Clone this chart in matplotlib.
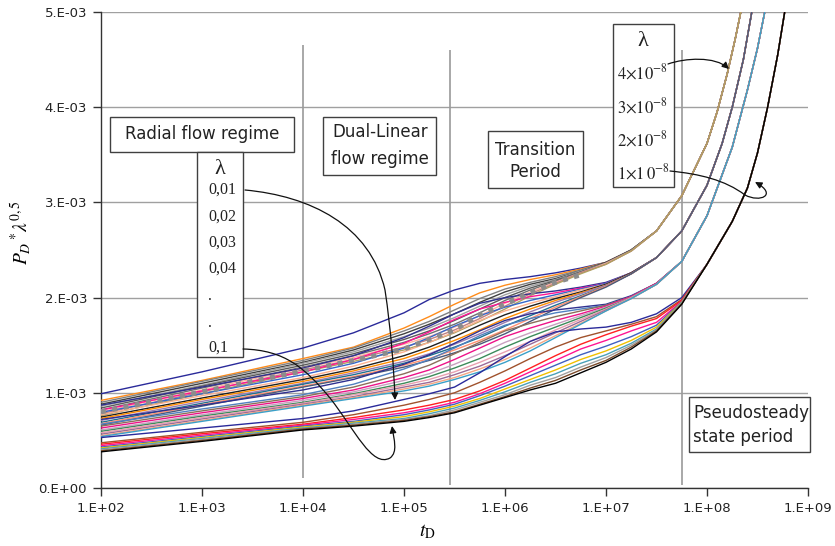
import numpy as np
import matplotlib.pyplot as plt
from matplotlib.path import Path
from matplotlib.patches import FancyArrowPatch, Rectangle
from matplotlib.ticker import FuncFormatter, FixedLocator, NullLocator

plt.rcParams['mathtext.fontset'] = 'stix'

# log10(tD) where every curve has its own value
log_t_own = [2, 3, 4, 4.5, 5, 5.25, 5.5, 5.75, 6, 6.25, 6.5, 6.75, 7, 7.25, 7.5]
log_t_own_g1 = log_t_own + [7.75]

# values in units of 1e-3, rows bottom -> top (lambda' 0,01 ... 0,1)
# lambda = 1e-8
g1_rows = [
    [0.38, 0.49, 0.61, 0.65, 0.70, 0.74, 0.79, 0.87, 0.95, 1.03, 1.10, 1.21, 1.32, 1.46, 1.64, 1.93],
    [0.39, 0.50, 0.62, 0.66, 0.71, 0.75, 0.80, 0.88, 0.96, 1.05, 1.13, 1.24, 1.34, 1.48, 1.65, 1.935],
    [0.40, 0.51, 0.62, 0.67, 0.72, 0.76, 0.82, 0.90, 0.98, 1.08, 1.16, 1.27, 1.37, 1.50, 1.66, 1.94],
    [0.41, 0.52, 0.63, 0.68, 0.73, 0.78, 0.84, 0.92, 1.01, 1.11, 1.20, 1.31, 1.40, 1.52, 1.67, 1.945],
    [0.42, 0.53, 0.64, 0.69, 0.75, 0.80, 0.86, 0.94, 1.04, 1.14, 1.24, 1.35, 1.44, 1.55, 1.69, 1.95],
    [0.43, 0.54, 0.65, 0.70, 0.77, 0.82, 0.88, 0.97, 1.07, 1.18, 1.29, 1.40, 1.49, 1.59, 1.71, 1.955],
    [0.445, 0.555, 0.66, 0.72, 0.79, 0.84, 0.90, 0.99, 1.10, 1.22, 1.34, 1.46, 1.55, 1.65, 1.74, 1.96],
    [0.46, 0.57, 0.67, 0.74, 0.82, 0.87, 0.93, 1.02, 1.13, 1.26, 1.39, 1.51, 1.61, 1.70, 1.78, 1.97],
    [0.475, 0.585, 0.69, 0.77, 0.87, 0.93, 1.00, 1.11, 1.23, 1.36, 1.48, 1.58, 1.65, 1.72, 1.80, 1.98],
    [0.53, 0.63, 0.73, 0.81, 0.93, 0.99, 1.06, 1.21, 1.38, 1.54, 1.64, 1.67, 1.69, 1.74, 1.83, 2.00],
]
g1_tail_t = [8.0, 8.25, 8.4, 8.5, 8.6, 8.7, 8.8]
g1_tail_y = [2.35, 2.80, 3.15, 3.52, 4.0, 4.55, 5.2]

# lambda = 2e-8
g2_rows = [
    [0.54, 0.70, 0.86, 0.94, 1.02, 1.07, 1.14, 1.22, 1.32, 1.44, 1.58, 1.72, 1.86, 1.99, 2.14],
    [0.55, 0.71, 0.87, 0.95, 1.04, 1.09, 1.16, 1.25, 1.35, 1.47, 1.60, 1.73, 1.86, 1.99, 2.14],
    [0.565, 0.725, 0.88, 0.96, 1.06, 1.11, 1.19, 1.28, 1.39, 1.51, 1.63, 1.75, 1.87, 1.99, 2.14],
    [0.58, 0.74, 0.89, 0.98, 1.08, 1.14, 1.22, 1.32, 1.43, 1.54, 1.66, 1.77, 1.88, 2.00, 2.14],
    [0.595, 0.755, 0.90, 0.99, 1.10, 1.17, 1.26, 1.36, 1.48, 1.59, 1.69, 1.79, 1.89, 2.00, 2.14],
    [0.61, 0.77, 0.92, 1.01, 1.13, 1.20, 1.30, 1.41, 1.53, 1.63, 1.72, 1.81, 1.90, 2.00, 2.14],
    [0.63, 0.79, 0.94, 1.03, 1.16, 1.24, 1.35, 1.47, 1.59, 1.68, 1.76, 1.83, 1.91, 2.01, 2.15],
    [0.65, 0.81, 0.96, 1.06, 1.20, 1.29, 1.41, 1.53, 1.65, 1.73, 1.80, 1.86, 1.92, 2.01, 2.15],
    [0.67, 0.83, 0.98, 1.09, 1.25, 1.35, 1.47, 1.60, 1.71, 1.78, 1.84, 1.88, 1.92, 2.01, 2.15],
    [0.72, 0.87, 1.03, 1.14, 1.30, 1.40, 1.52, 1.65, 1.76, 1.83, 1.87, 1.90, 1.93, 2.02, 2.15],
]
g2_tail_t = [7.75, 8.0, 8.25, 8.4, 8.5, 8.6]
g2_tail_y = [2.38, 2.86, 3.58, 4.18, 4.62, 5.15]

# lambda = 3e-8
g3_rows = [
    [0.66, 0.86, 1.06, 1.16, 1.27, 1.34, 1.42, 1.51, 1.62, 1.75, 1.88, 2.00, 2.11, 2.25, 2.42],
    [0.675, 0.875, 1.07, 1.17, 1.29, 1.36, 1.45, 1.55, 1.66, 1.78, 1.90, 2.01, 2.12, 2.25, 2.42],
    [0.69, 0.89, 1.09, 1.19, 1.31, 1.39, 1.48, 1.58, 1.70, 1.81, 1.92, 2.02, 2.12, 2.25, 2.42],
    [0.71, 0.91, 1.10, 1.21, 1.33, 1.41, 1.51, 1.62, 1.74, 1.85, 1.95, 2.04, 2.13, 2.25, 2.42],
    [0.73, 0.93, 1.12, 1.23, 1.36, 1.45, 1.55, 1.66, 1.78, 1.88, 1.97, 2.05, 2.13, 2.25, 2.42],
    [0.745, 0.945, 1.14, 1.25, 1.39, 1.48, 1.59, 1.71, 1.82, 1.91, 1.99, 2.06, 2.14, 2.26, 2.42],
    [0.77, 0.97, 1.16, 1.28, 1.43, 1.53, 1.64, 1.76, 1.86, 1.94, 2.01, 2.08, 2.14, 2.26, 2.42],
    [0.795, 0.99, 1.19, 1.31, 1.47, 1.58, 1.70, 1.81, 1.90, 1.97, 2.03, 2.09, 2.15, 2.26, 2.42],
    [0.82, 1.02, 1.22, 1.35, 1.52, 1.64, 1.77, 1.88, 1.95, 2.01, 2.05, 2.10, 2.15, 2.26, 2.42],
    [0.87, 1.06, 1.26, 1.39, 1.58, 1.70, 1.83, 1.94, 2.00, 2.04, 2.07, 2.11, 2.16, 2.26, 2.42],
]
g3_tail_t = [7.75, 8.0, 8.15, 8.25, 8.36, 8.46]
g3_tail_y = [2.70, 3.18, 3.62, 4.00, 4.50, 5.10]

# lambda = 4e-8
g4_rows = [
    [0.76, 0.99, 1.22, 1.33, 1.45, 1.53, 1.63, 1.75, 1.88, 2.02, 2.14, 2.25, 2.35, 2.49, 2.70],
    [0.78, 1.01, 1.24, 1.35, 1.48, 1.56, 1.66, 1.78, 1.91, 2.04, 2.15, 2.26, 2.35, 2.49, 2.70],
    [0.80, 1.03, 1.26, 1.37, 1.51, 1.59, 1.69, 1.81, 1.94, 2.06, 2.16, 2.26, 2.36, 2.49, 2.70],
    [0.82, 1.05, 1.27, 1.39, 1.53, 1.62, 1.72, 1.84, 1.97, 2.08, 2.17, 2.27, 2.36, 2.49, 2.70],
    [0.84, 1.07, 1.29, 1.41, 1.56, 1.65, 1.76, 1.88, 2.00, 2.10, 2.18, 2.27, 2.36, 2.50, 2.70],
    [0.86, 1.08, 1.31, 1.43, 1.59, 1.68, 1.79, 1.91, 2.03, 2.12, 2.19, 2.28, 2.36, 2.50, 2.70],
    [0.88, 1.10, 1.32, 1.45, 1.62, 1.72, 1.83, 1.95, 2.06, 2.14, 2.20, 2.28, 2.37, 2.50, 2.70],
    [0.90, 1.12, 1.34, 1.47, 1.65, 1.75, 1.87, 1.99, 2.09, 2.16, 2.22, 2.29, 2.37, 2.50, 2.70],
    [0.92, 1.13, 1.36, 1.48, 1.68, 1.80, 1.93, 2.05, 2.13, 2.19, 2.24, 2.30, 2.37, 2.50, 2.70],
    [0.99, 1.22, 1.47, 1.63, 1.84, 1.98, 2.08, 2.15, 2.19, 2.22, 2.26, 2.31, 2.37, 2.50, 2.70],
]
g4_tail_t = [7.75, 8.0, 8.1, 8.2, 8.28, 8.35]
g4_tail_y = [3.07, 3.62, 3.95, 4.35, 4.72, 5.08]

# grey dotted curve
dot_t = [2, 3, 4, 4.5, 5, 5.5, 5.75, 6, 6.25, 6.5, 6.75]
dot_y = [0.80, 1.01, 1.23, 1.34, 1.46, 1.66, 1.82, 1.93, 2.05, 2.16, 2.24]

g1_colors = ['#000000', '#7a4a2a', '#a0a0a0', '#4aa0b8', '#f0c000',
             '#4060c0', '#ff1493', '#ff2020', '#a0522d', '#2a2a9a']
g2_colors = ['#3aa0c8', '#f4a582', '#9c6b98', '#e8a0b0', '#3c8a5a',
             '#c8a0c0', '#ee1289', '#8c6d5a', '#5080c0', '#303090']
g3_colors = ['#4a5a7a', '#ff9070', '#207090', '#9b7bb0', '#ff8c00',
             '#202020', '#fbb090', '#3366cc', '#ff1493', '#303090']
g4_colors = ['#b0a060', '#c08080', '#ffb0a0', '#707070', '#5a5a5a',
             '#a0a0a0', '#404040', '#808080', '#ff8c1a', '#2a2a9a']

region_t = [1e4, 2.85e5, 5.6e7]
region_lo = [0.105e-3, 0.03e-3, 0.03e-3]
region_hi = [4.65e-3, 4.60e-3, 4.60e-3]

fig = plt.figure(figsize=(8.35, 5.46), dpi=100)
ax = fig.add_axes([0.12096, 0.10623, 0.84671, 0.87179])
ax.set_xscale('log')
ax.set_xlim(1e2, 1e9)
ax.set_ylim(0, 5e-3)

groups = [(g4_rows, log_t_own, g4_tail_t, g4_tail_y, g4_colors),
          (g3_rows, log_t_own, g3_tail_t, g3_tail_y, g3_colors),
          (g2_rows, log_t_own, g2_tail_t, g2_tail_y, g2_colors),
          (g1_rows, log_t_own_g1, g1_tail_t, g1_tail_y, g1_colors)]
for rows, ot, tt, ty, cols in groups:
    for row, c in reversed(list(zip(rows, cols))):
        t = 10 ** np.array(ot + tt, dtype=float)
        y = np.array(row + ty) * 1e-3
        ax.plot(t, y, color=c, lw=1.0, zorder=3)

ax.plot(10 ** np.array(dot_t, dtype=float), np.array(dot_y) * 1e-3,
        color='#8c8c8c', lw=3.6, linestyle=(0, (1, 1.3)),
        dash_capstyle='butt', zorder=3.5)

ax.vlines(region_t, region_lo, region_hi, color='#9a9a9a', lw=1.2, zorder=1)

# axes styling
for s in ['top', 'right']:
    ax.spines[s].set_visible(False)
for s in ['left', 'bottom']:
    ax.spines[s].set_color('#333333')
    ax.spines[s].set_linewidth(1.0)
ax.xaxis.set_major_locator(FixedLocator([10.0 ** k for k in range(2, 10)]))
ax.xaxis.set_minor_locator(NullLocator())
ax.yaxis.set_major_locator(FixedLocator([0, 1e-3, 2e-3, 3e-3, 4e-3, 5e-3]))
ax.xaxis.set_major_formatter(FuncFormatter(lambda v, p: '1.E+%02d' % round(np.log10(v))))
ax.yaxis.set_major_formatter(FuncFormatter(
    lambda v, p: '0.E+00' if v == 0 else '%d.E-03' % round(v * 1e3)))
ax.tick_params(direction='out', length=6, width=1, color='#333333',
               labelsize=9.5, labelcolor='#222222', pad=4)
ax.yaxis.grid(True, color='#a0a0a0', lw=1.0, zorder=0)
ax.set_axisbelow(True)

ax.set_ylabel(r'$P_D\,^{*}\lambda^{0,5}$', fontsize=14)
ax.yaxis.set_label_coords(-0.096, 0.536)
ax.set_xlabel(r'$t_{\mathrm{D}}$', fontsize=14)
ax.xaxis.set_label_coords(0.461, -0.0714)


def axp(px, py):
    return ((px - 101) / 707.0, (488 - py) / 476.0)


def box(x0, y0, x1, y1):
    p0 = axp(x0, y1)
    w = (x1 - x0) / 707.0
    h = (y1 - y0) / 476.0
    ax.add_patch(Rectangle(p0, w, h, transform=ax.transAxes, facecolor='white',
                           edgecolor='#404040', lw=1.0, zorder=6, clip_on=False))


def label(px, py, s, ha='center', size=12, family='DejaVu Sans'):
    x, y = axp(px, py)
    ax.text(x, y, s, transform=ax.transAxes, ha=ha, va='center', fontsize=size,
            family=family, color='#222222', zorder=7)


box(110, 117, 294, 152)
label(202, 134, 'Radial flow regime')
box(323, 117, 436, 175)
label(380, 132, 'Dual-Linear')
label(380, 159, 'flow regime')
box(488, 131, 583, 188)
label(535, 150, 'Transition')
label(535, 172, 'Period')
box(689, 397, 810, 452)
label(693, 413, 'Pseudosteady', ha='left')
label(693, 437, 'state period', ha='left')

serif = 'Liberation Serif'
box(197, 152, 243, 357)
label(220, 169, 'λ', size=16, family=serif)
for py, s in [(190, '0,01'), (217, '0,02'), (243, '0,03'), (269, '0,04'),
              (296, '.'), (323, '.'), (348, '0,1')]:
    label(208, py, s, ha='left', size=11.5, family=serif)

box(613, 24, 674, 187)
label(643, 41, 'λ', size=16, family=serif)
for py, s in [(73, r'$4{\times}10^{-8}$'), (107, r'$3{\times}10^{-8}$'),
              (140, r'$2{\times}10^{-8}$'), (173, r'$1{\times}1\,0^{-8}$')]:
    label(617, py, s, ha='left', size=12, family=serif)


def curve(pts, codes):
    verts = [axp(*p) for p in pts]
    path = Path(verts, codes)
    ax.add_patch(FancyArrowPatch(path=path, transform=ax.transAxes,
                                 arrowstyle='-|>', mutation_scale=10,
                                 color='#111111', lw=0.9, zorder=8,
                                 clip_on=False))


C4 = Path.CURVE4
curve([(245, 190), (310, 196), (370, 225), (385, 290),
       (391, 330), (394, 370), (395, 400)],
      [Path.MOVETO, C4, C4, C4, C4, C4, C4])
curve([(243, 349), (285, 350), (305, 368), (330, 398),
       (355, 430), (372, 468), (390, 458),
       (398, 452), (394, 440), (392, 426)],
      [Path.MOVETO, C4, C4, C4, C4, C4, C4, C4, C4, C4])
curve([(668, 64), (685, 58), (715, 56), (729, 69)],
      [Path.MOVETO, C4, C4, C4])
curve([(670, 171), (700, 174), (725, 180), (745, 195),
       (760, 203), (778, 195), (755, 182)],
      [Path.MOVETO, C4, C4, C4, C4, C4, C4])

fig.savefig('out.png', dpi=100)
